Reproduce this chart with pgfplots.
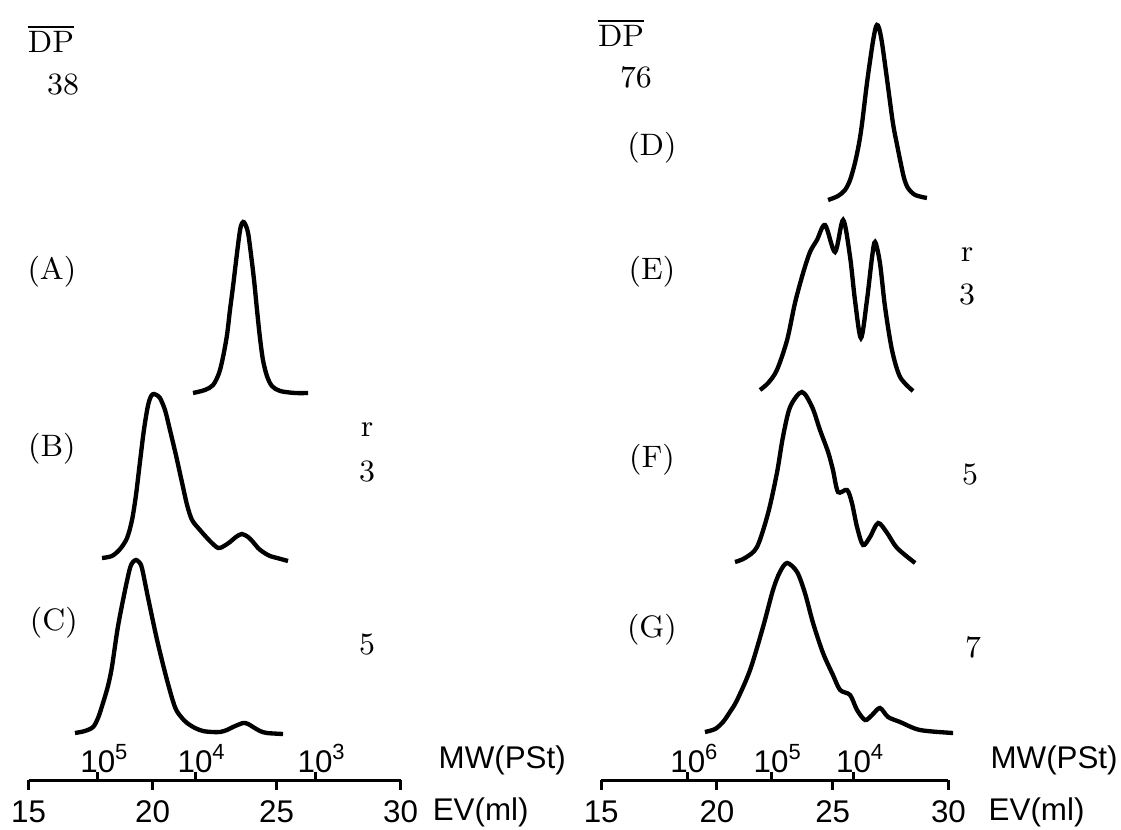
\documentclass[border=0pt]{standalone}
\usepackage{fontspec}
\usepackage{pgfplots}
\pgfplotsset{compat=1.18}
\newfontfamily\hv{Liberation Sans}

% one unit in y is one pixel of the original (0.3pt)
\pgfplotsset{
  gpc/.style={
    y=0.3pt, ymin=3, ymax=783,
    xmin=15, xmax=30,
    hide y axis, axis x line*=bottom,
    x axis line style={-, line width=0.9pt},
    xtick={15,20,25,30},
    xtick align=outside,
    major tick length=3pt,
    major tick style={line width=0.9pt, black},
    /pgf/number format/assume math mode=true,
    xticklabel style={font=\hv\fontsize{9.4}{11}\selectfont, anchor=base, yshift=-9.6pt},
    extra x tick style={xtick align=inside, major tick length=2.4pt},
    extra x tick labels={},
    clip=false,
    every axis plot post/.append style={black, line width=1.3pt, smooth, tension=0.5, mark=none},
  },
}
\tikzset{
  lab/.style={font=\fontsize{9.3}{11}\selectfont},
  sf/.style={font=\hv\fontsize{9.4}{11}\selectfont, inner sep=0pt},
}

\begin{document}
\begin{tikzpicture}
\useasboundingbox (-8.58pt,-14.7pt) rectangle (327.72pt,234pt);

% left panel, DP 38
\begin{axis}[gpc, x=7.44pt, at={(0pt,0pt)}, anchor=south west,
  extra x ticks={17.79,21.71,26.55}]
% (A)
\addplot coordinates {(21.63,390) (22.11,393) (22.44,398) (22.68,410) (22.84,426)
  (23.00,448) (23.12,473) (23.24,496) (23.36,521) (23.48,545) (23.56,557)
  (23.65,561) (23.73,559) (23.85,550) (23.97,528) (24.09,503) (24.21,473)
  (24.33,445) (24.45,423) (24.61,407) (24.81,397) (25.14,392) (25.74,390)
  (26.27,390)};
% (B)
\addplot coordinates {(17.96,225) (18.36,227) (18.69,234) (18.97,245) (19.17,263)
  (19.33,288) (19.49,321) (19.65,353) (19.81,377) (19.94,387) (20.06,389)
  (20.22,387) (20.30,385) (20.50,373) (20.70,353) (20.94,328) (21.19,300)
  (21.39,278) (21.59,263) (21.91,253) (22.31,242) (22.64,235) (22.88,237)
  (23.12,241) (23.36,246) (23.60,249) (23.85,246) (24.05,241) (24.25,235)
  (24.45,231) (24.73,227) (25.02,225) (25.46,222)};
% (C)
\addplot coordinates {(16.87,50) (17.27,52) (17.60,56) (17.80,65) (18.00,80)
  (18.20,97) (18.36,116) (18.60,156) (18.89,193) (19.09,215) (19.21,221)
  (19.33,223) (19.45,221) (19.57,215) (19.81,186) (20.18,143) (20.58,103)
  (20.90,76) (21.15,66) (21.39,60) (21.71,55) (22.03,52) (22.40,51)
  (22.72,51) (23.00,53) (23.24,56) (23.65,60) (23.85,59) (24.05,56)
  (24.33,52) (24.61,50) (25.26,49)};

\node[lab] at (axis cs:15.90,744) {$\overline{\mathrm{DP}}$};
\node[lab] at (axis cs:16.39,698) {38};
\node[lab] at (axis cs:15.94,511) {(A)};
\node[lab] at (axis cs:15.94,334) {(B)};
\node[lab] at (axis cs:16.02,160) {(C)};
\node[lab] at (axis cs:28.65,353) {r};
\node[lab] at (axis cs:28.65,311) {3};
\node[lab] at (axis cs:28.65,138) {5};

\node[sf, anchor=base] at (axis cs:17.79,11) {10\rlap{\textsuperscript{5}}};
\node[sf, anchor=base] at (axis cs:21.71,11) {10\rlap{\textsuperscript{4}}};
\node[sf, anchor=base] at (axis cs:26.55,11) {10\rlap{\textsuperscript{3}}};
\node[sf, anchor=base west] at (axis cs:31.51,15) {MW(PSt)};
\node[sf, anchor=base west] at (axis cs:31.27,-37) {EV(ml)};
\end{axis}

% right panel, DP 76
\begin{axis}[gpc, x=6.945pt, at={(171.78pt,0pt)}, anchor=south west,
  extra x ticks={18.74,22.34,25.90}]
% (D)
\addplot coordinates {(24.80,583) (25.23,587) (25.53,593) (25.75,603) (25.96,620)
  (26.14,640) (26.27,660) (26.48,700) (26.70,736) (26.83,753) (26.91,758)
  (27.00,755) (27.13,740) (27.35,703) (27.60,660) (27.78,638) (27.91,623)
  (28.08,605) (28.25,595) (28.56,588) (29.07,585)};
% (E)
\addplot coordinates {(21.86,393) (22.21,400) (22.59,413) (23.03,443) (23.37,480)
  (23.72,510) (24.02,531) (24.32,543) (24.67,558) (25.10,531) (25.45,563)
  (25.75,526) (25.96,483) (26.22,445) (26.48,483) (26.70,526) (26.83,541)
  (27.04,520) (27.26,476) (27.56,433) (27.91,406) (28.47,392)};
% (F)
\addplot coordinates {(20.78,221) (21.21,225) (21.73,236) (22.21,270) (22.59,310)
  (22.85,346) (23.16,376) (23.67,391) (24.11,376) (24.45,353) (24.80,331)
  (25.01,313) (25.23,291) (25.62,293) (25.83,280) (26.05,256) (26.31,238)
  (26.61,246) (26.96,260) (27.35,250) (27.78,235) (28.56,220)};
% (G)
\addplot coordinates {(19.48,51) (19.92,54) (20.26,61) (20.56,71) (20.87,83)
  (21.43,113) (21.99,156) (22.42,193) (22.72,211) (23.03,220) (23.46,211)
  (23.80,190) (24.15,160) (24.58,130) (25.01,108) (25.32,93) (25.75,88)
  (26.05,73) (26.40,63) (26.70,68) (27.04,75) (27.39,66) (27.91,61)
  (28.77,53) (30.20,50)};

\node[lab] at (axis cs:15.86,750) {$\overline{\mathrm{DP}}$};
\node[lab] at (axis cs:16.50,706) {76};
\node[lab] at (axis cs:17.19,635) {(D)};
\node[lab] at (axis cs:17.19,511) {(E)};
\node[lab] at (axis cs:17.19,323) {(F)};
\node[lab] at (axis cs:17.19,153) {(G)};
\node[lab] at (axis cs:30.80,528) {r};
\node[lab] at (axis cs:30.80,488) {3};
\node[lab] at (axis cs:30.93,308) {5};
\node[lab] at (axis cs:31.06,136) {7};

\node[sf, anchor=base] at (axis cs:18.74,11) {10\rlap{\textsuperscript{6}}};
\node[sf, anchor=base] at (axis cs:22.34,11) {10\rlap{\textsuperscript{5}}};
\node[sf, anchor=base] at (axis cs:25.90,11) {10\rlap{\textsuperscript{4}}};
\node[sf, anchor=base west] at (axis cs:31.79,15) {MW(PSt)};
\node[sf, anchor=base west] at (axis cs:31.71,-37) {EV(ml)};
\end{axis}
\end{tikzpicture}
\end{document}
